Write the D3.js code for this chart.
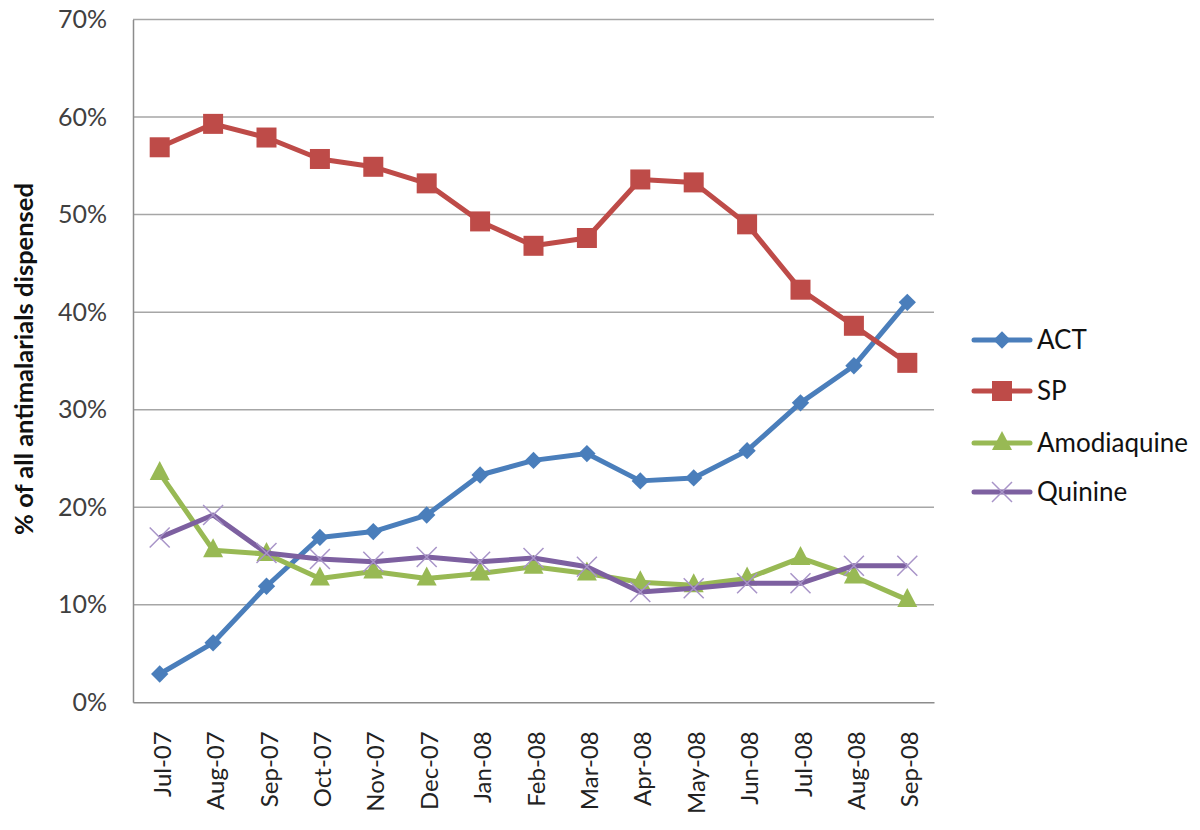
<!DOCTYPE html>
<html><head><meta charset="utf-8">
<script src="https://cdn.jsdelivr.net/npm/d3@7"></script>
<style>body{margin:0;background:#fff}svg{display:block}</style>
</head><body>
<svg id="c" width="1200" height="830"></svg>
<script>
const months = ["Jul-07","Aug-07","Sep-07","Oct-07","Nov-07","Dec-07","Jan-08","Feb-08","Mar-08","Apr-08","May-08","Jun-08","Jul-08","Aug-08","Sep-08"];
const act = [2.9,6.1,11.9,16.9,17.5,19.2,23.3,24.8,25.5,22.7,23.0,25.8,30.7,34.5,41.0];
const sp = [56.9,59.3,57.9,55.7,54.9,53.2,49.3,46.8,47.6,53.6,53.3,49.0,42.3,38.6,34.8];
const amodiaquine = [23.5,15.6,15.2,12.7,13.4,12.7,13.2,13.9,13.2,12.3,12.0,12.7,14.8,12.9,10.5];
const quinine = [16.9,19.2,15.3,14.7,14.4,14.9,14.4,14.8,13.9,11.3,11.7,12.2,12.2,14.0,14.0];
const yTicks = [0,10,20,30,40,50,60,70];
const seriesNames = ["ACT","SP","Amodiaquine","Quinine"];

const series = [
  {name:seriesNames[0], values:act, color:"#4a7ebb", marker:"diamond"},
  {name:seriesNames[1], values:sp, color:"#be4b48", marker:"square"},
  {name:seriesNames[2], values:amodiaquine, color:"#98b954", marker:"triangle"},
  {name:seriesNames[3], values:quinine, color:"#7d60a0", marker:"x"}
];

const svg = d3.select("#c");
const L=133, R=934, T=19.5, B=702.3;
const x = d3.scaleBand().domain(months).range([L,R]);
const y = d3.scaleLinear().domain([0,70]).range([B,T]);
const font = "Lato, 'Open Sans', sans-serif";

// gridlines
svg.append("g").selectAll("line").data(yTicks.filter(d=>d>0)).join("line")
  .attr("x1",L).attr("x2",R).attr("y1",d=>y(d)).attr("y2",d=>y(d))
  .attr("stroke","#a6a6a6").attr("stroke-width",1.5);

// axes
const yAxis = d3.axisLeft(y).tickValues(yTicks).tickFormat(d=>d+"%").tickSize(0).tickPadding(26);
const gy = svg.append("g").attr("transform",`translate(${L},0)`).call(yAxis);
gy.select(".domain").attr("stroke","#8c8c8c").attr("stroke-width",1.5);
gy.selectAll("text").attr("font-family",font).attr("font-size",25).attr("fill","#404040");

const xAxis = d3.axisBottom(x).tickSize(0).tickPadding(0);
const gx = svg.append("g").attr("transform",`translate(0,${B})`).call(xAxis);
gx.select(".domain").attr("stroke","#8c8c8c").attr("stroke-width",1.5);
gx.selectAll("text").attr("font-family",font).attr("font-size",24).attr("fill","#222")
  .attr("text-anchor","end").attr("dy",0).attr("y",0)
  .attr("transform","translate(11,29) rotate(-90)");

// y label
svg.append("text").attr("transform","translate(33,359) rotate(-90)")
  .attr("text-anchor","middle").attr("font-family",font).attr("font-size",25.5)
  .attr("font-weight","bold").attr("fill","#111").text("% of all antimalarials dispensed");

function drawMarker(g, type, color, cx, cy){
  if(type==="diamond"){
    g.append("path").attr("d",d3.symbol(d3.symbolSquare, 150)()).attr("transform",`translate(${cx},${cy}) rotate(45)`).attr("fill",color);
  } else if(type==="square"){
    g.append("rect").attr("x",cx-10).attr("y",cy-10).attr("width",20).attr("height",20).attr("fill",color);
  } else if(type==="triangle"){
    g.append("path").attr("d",`M${cx},${cy-12}L${cx+10},${cy+7}L${cx-10},${cy+7}Z`).attr("fill",color);
  } else {
    const s=10;
    g.append("path").attr("d",`M${cx-s},${cy-s}L${cx+s},${cy+s}M${cx-s},${cy+s}L${cx+s},${cy-s}`)
      .attr("stroke","#a894c8").attr("stroke-width",1.5).attr("fill","none");
  }
}

const line = d3.line().x((d,i)=>x(months[i])+x.bandwidth()/2).y(d=>y(d));
series.forEach(s=>{
  const g = svg.append("g");
  g.append("path").attr("d",line(s.values)).attr("fill","none").attr("stroke",s.color)
    .attr("stroke-width",5).attr("stroke-linejoin","round");
  s.values.forEach((v,i)=>drawMarker(g,s.marker,s.color,x(months[i])+x.bandwidth()/2,y(v)));
});

// legend
const legY = [340,391,443,492];
series.forEach((s,i)=>{
  const g = svg.append("g");
  g.append("line").attr("x1",974).attr("x2",1030).attr("y1",legY[i]).attr("y2",legY[i])
    .attr("stroke",s.color).attr("stroke-width",5).attr("stroke-linecap","round");
  drawMarker(g,s.marker,s.color,1002,legY[i]);
  g.append("text").attr("x",1037).attr("y",legY[i]+9).attr("font-family",font).attr("font-size",26)
    .attr("fill","#111").text(s.name);
});
</script>
</body></html>
